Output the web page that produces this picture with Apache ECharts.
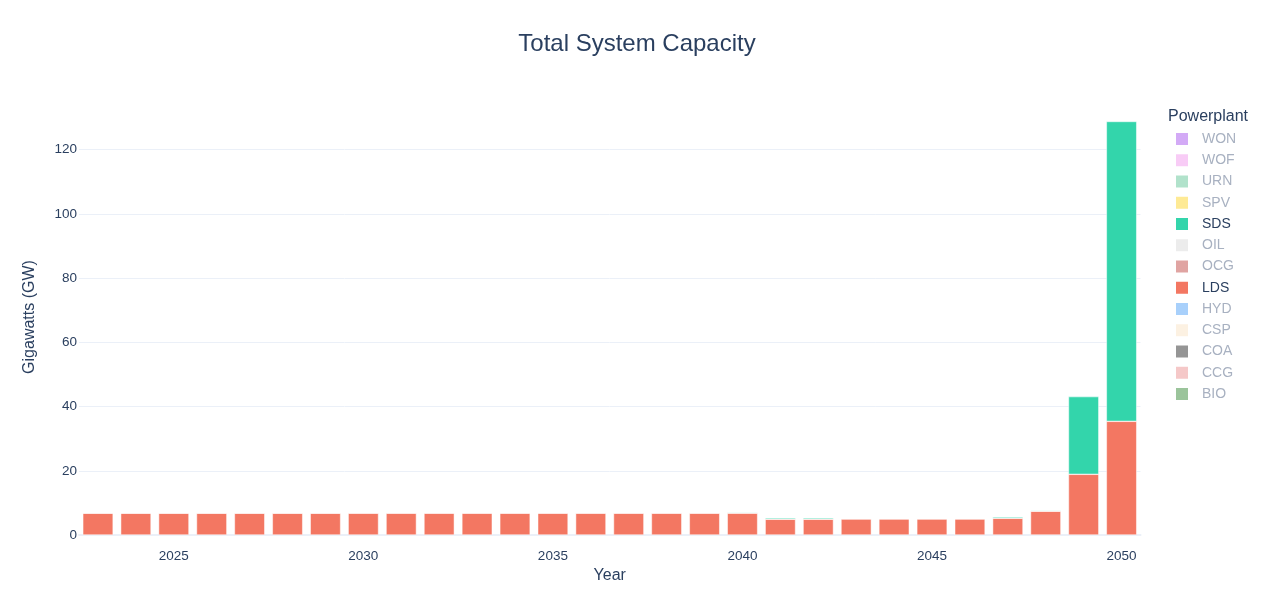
<!DOCTYPE html>
<html>
<head>
<meta charset="utf-8">
<script src="https://cdn.jsdelivr.net/npm/echarts@6/dist/echarts.min.js"></script>
<style>
html, body { margin: 0; padding: 0; background: #fff; }
#main { width: 1264px; height: 615px; }
</style>
</head>
<body>
<div id="main"></div>
<script>
var years = [2023, 2024, 2025, 2026, 2027, 2028, 2029, 2030, 2031, 2032, 2033, 2034, 2035, 2036,
    2037, 2038, 2039, 2040, 2041, 2042, 2043, 2044, 2045, 2046, 2047, 2048, 2049, 2050];

// LDS capacity per year (GW)
var ldsValues = [6.8, 6.8, 6.8, 6.8, 6.8, 6.8, 6.8, 6.8, 6.8, 6.8, 6.8, 6.8, 6.8, 6.8,
    6.8, 6.8, 6.8, 6.8, 4.9, 4.9, 5.0, 5.0, 5.0, 5.0, 5.2, 7.4, 18.9, 35.4];
// SDS capacity per year (GW)
var sdsValues = [0, 0, 0, 0, 0, 0, 0, 0.1, 0.1, 0.1, 0.1, 0.1, 0.1, 0.1,
    0.1, 0.1, 0.1, 0.2, 0.4, 0.4, 0.1, 0.1, 0.1, 0.1, 0.4, 0.2, 24.2, 93.4];

// legend order, top to bottom (plotly reversed trace order)
var plants = ['WON', 'WOF', 'URN', 'SPV', 'SDS', 'OIL', 'OCG', 'LDS', 'HYD', 'CSP', 'COA', 'CCG', 'BIO'];
var activePlants = ['SDS', 'LDS'];
var plantColors = {
    WON: '#d3aaf6', WOF: '#f8ccf6', URN: '#b1e2cb', SPV: '#feea95', SDS: '#33d5ab',
    OIL: '#ececec', OCG: '#e0a4a2', LDS: '#f37762', HYD: '#a8d0fb', CSP: '#fcf1e2',
    COA: '#959595', CCG: '#f5c8c8', BIO: '#9bc49b'
};

var myChart = echarts.init(document.getElementById('main'));

var legendData = [];
for (var i = 0; i < plants.length; i++) {
    var on = activePlants.indexOf(plants[i]) >= 0;
    legendData.push({
        name: plants[i],
        itemStyle: { color: plantColors[plants[i]], borderWidth: 0 },
        textStyle: { color: on ? '#2a3f5f' : '#a8b1c1' }
    });
}

// series go bottom to top of the stack
var series = [];
var order = plants.slice().reverse();
for (var j = 0; j < order.length; j++) {
    var name = order[j];
    var vals = [];
    if (name == 'LDS') vals = ldsValues;
    if (name == 'SDS') vals = sdsValues;
    series.push({
        name: name,
        type: 'bar',
        stack: 'total',
        barCategoryGap: '20%',
        data: vals,
        itemStyle: {
            color: plantColors[name],
            borderColor: '#ffffff',
            borderWidth: 0.5
        },
        emphasis: { disabled: true }
    });
}

var option = {
    animation: false,
    textStyle: { fontFamily: 'Arial, "Liberation Sans", sans-serif' },
    title: [
        {
            text: 'Total System Capacity',
            left: 632,
            top: 27,
            textAlign: 'center',
            textStyle: { fontSize: 24, fontWeight: 'normal', color: '#2a3f5f' }
        },
        {
            text: 'Powerplant',
            left: 1163,
            top: 104,
            textStyle: { fontSize: 16, fontWeight: 'normal', color: '#2a3f5f' }
        }
    ],
    legend: {
        orient: 'vertical',
        left: 1171,
        top: 127,
        icon: 'rect',
        itemWidth: 12,
        itemHeight: 12,
        itemGap: 7.25,
        selectedMode: false,
        textStyle: { fontSize: 14, lineHeight: 14, padding: [0, 0, 0, 9] },
        data: legendData
    },
    grid: {
        left: 79,
        right: 123.5,
        top: 99,
        bottom: 80,
        containLabel: false
    },
    xAxis: {
        type: 'category',
        data: years,
        name: 'Year',
        nameLocation: 'middle',
        nameGap: 32,
        nameTextStyle: { fontSize: 16, color: '#2a3f5f' },
        axisTick: { show: false },
        axisLine: { show: true, lineStyle: { color: '#ebf0f8', width: 2 } },
        axisLabel: {
            fontSize: 13.5,
            color: '#2a3f5f',
            margin: 14,
            interval: function (idx, value) {
                return Number(value) % 5 == 0;
            }
        }
    },
    yAxis: {
        type: 'value',
        min: 0,
        max: 135.8,
        interval: 20,
        name: 'Gigawatts (GW)',
        nameLocation: 'middle',
        nameGap: 41,
        nameTextStyle: { fontSize: 16, color: '#2a3f5f' },
        axisLine: { show: false },
        axisTick: { show: false },
        axisLabel: { fontSize: 13.5, color: '#2a3f5f', margin: 2, showMaxLabel: false },
        splitLine: { show: true, showMaxLine: false, lineStyle: { color: '#ebf0f8', width: 1 } }
    },
    series: series
};

myChart.setOption(option);
</script>
</body>
</html>
